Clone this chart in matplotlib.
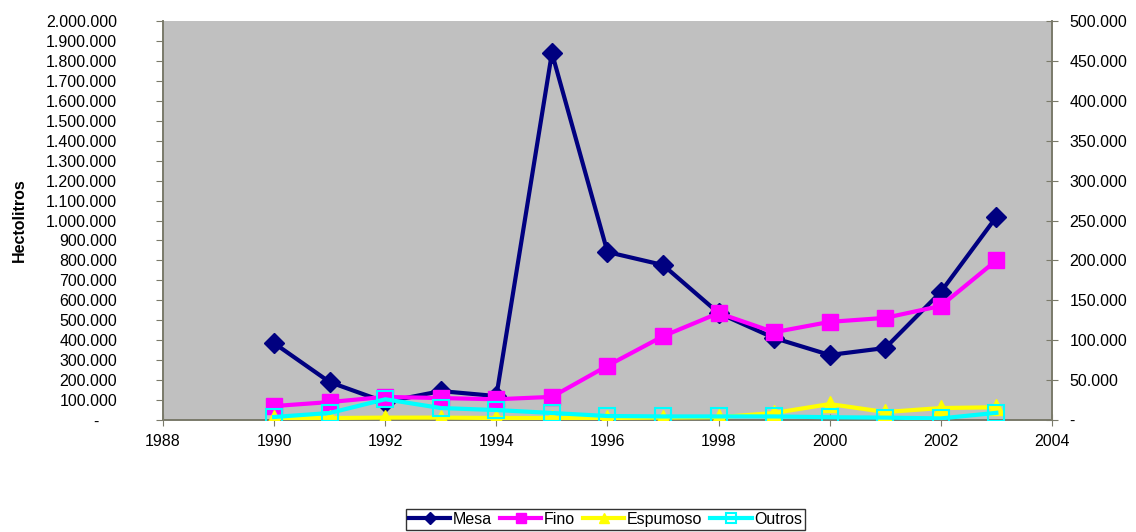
import matplotlib
matplotlib.use('Agg')
import matplotlib.pyplot as plt
from matplotlib.ticker import FuncFormatter, MultipleLocator

plt.rcParams['font.family'] = ['Liberation Sans', 'DejaVu Sans']

years = [1990, 1991, 1992, 1993, 1994, 1995, 1996, 1997, 1998, 1999, 2000, 2001, 2002, 2003]

# Mesa on the primary (left) axis, the rest on the secondary (right) axis
mesa = [385000, 190000, 90000, 145000, 120000, 1840000, 842000, 777000,
        536000, 411000, 326000, 361000, 642000, 1018000]
fino = [17500, 22500, 29000, 27500, 26000, 29000, 68000, 105000,
        134000, 110000, 123000, 128000, 143000, 200000]
espumoso = [2500, 2500, 3000, 3000, 2500, 2500, 2500, 3000,
            3500, 8800, 20000, 10000, 15000, 16000]
outros = [3800, 8800, 26000, 15000, 12500, 8800, 5000, 4500,
          4500, 4500, 3500, 3000, 2000, 9000]

axis_col = '#7a7a6a'
fs = 11.5


def thousands_left(v, pos):
    if v == 0:
        return '-    '
    return f'{int(round(v)):,}'.replace(',', '.')


def thousands_right(v, pos):
    if v == 0:
        return '-'
    return f'{int(round(v)):,}'.replace(',', '.')


fig = plt.figure(figsize=(11.36, 5.32), dpi=100)
fig.patch.set_facecolor('white')
ax = fig.add_axes([0.1435, 0.2105, 0.7825, 0.75])
ax.set_facecolor('#c0c0c0')
ax2 = ax.twinx()

l1, = ax.plot(years, mesa, color='#000080', lw=3, marker='D', ms=10,
              mfc='#000080', mec='#000080', label='Mesa', zorder=3)
l2, = ax2.plot(years, fino, color='#ff00ff', lw=3, marker='s', ms=11,
               mfc='#ff00ff', mec='#ff00ff', label='Fino', zorder=3)
l3, = ax2.plot(years, espumoso, color='#ffff00', lw=3, marker='^', ms=11,
               mfc='#ffff00', mec='#ffff00', label='Espumoso', zorder=4)
l4, = ax2.plot(years, outros, color='#00ffff', lw=3, marker='s', ms=11,
               mfc='none', mec='#00ffff', mew=1.5, label='Outros', zorder=5)

ax.set_xlim(1988, 2004)
ax.set_ylim(0, 2000000)
ax2.set_ylim(0, 500000)
ax.xaxis.set_major_locator(MultipleLocator(2))
ax.yaxis.set_major_locator(MultipleLocator(100000))
ax2.yaxis.set_major_locator(MultipleLocator(50000))
ax.yaxis.set_major_formatter(FuncFormatter(thousands_left))
ax2.yaxis.set_major_formatter(FuncFormatter(thousands_right))

for a in (ax, ax2):
    a.spines['top'].set_visible(False)
    for s in ('left', 'right', 'bottom'):
        a.spines[s].set_color(axis_col)
        a.spines[s].set_linewidth(1.2)
ax.tick_params(axis='y', direction='out', length=5, color=axis_col,
               labelsize=fs, pad=28)
ax.tick_params(axis='x', direction='inout', length=8, color=axis_col,
               labelsize=fs, pad=6)
ax2.tick_params(axis='y', direction='inout', length=9, color=axis_col,
                labelsize=fs, pad=8)

ax.set_ylabel('Hectolitros', fontsize=fs, fontweight='bold')
ax.yaxis.set_label_coords(-0.153, 0.5)

leg = fig.legend(handles=[l1, l2, l3, l4], loc='center', ncol=4,
                 bbox_to_anchor=(0.533, 0.024), fontsize=fs, frameon=True,
                 fancybox=False, edgecolor='black', handlelength=2.6,
                 handletextpad=0.15, columnspacing=0.5, borderpad=0.2,
                 markerscale=0.6)
leg.get_frame().set_linewidth(1.0)

fig.savefig('out.png', dpi=100, facecolor='white')
plt.close(fig)
